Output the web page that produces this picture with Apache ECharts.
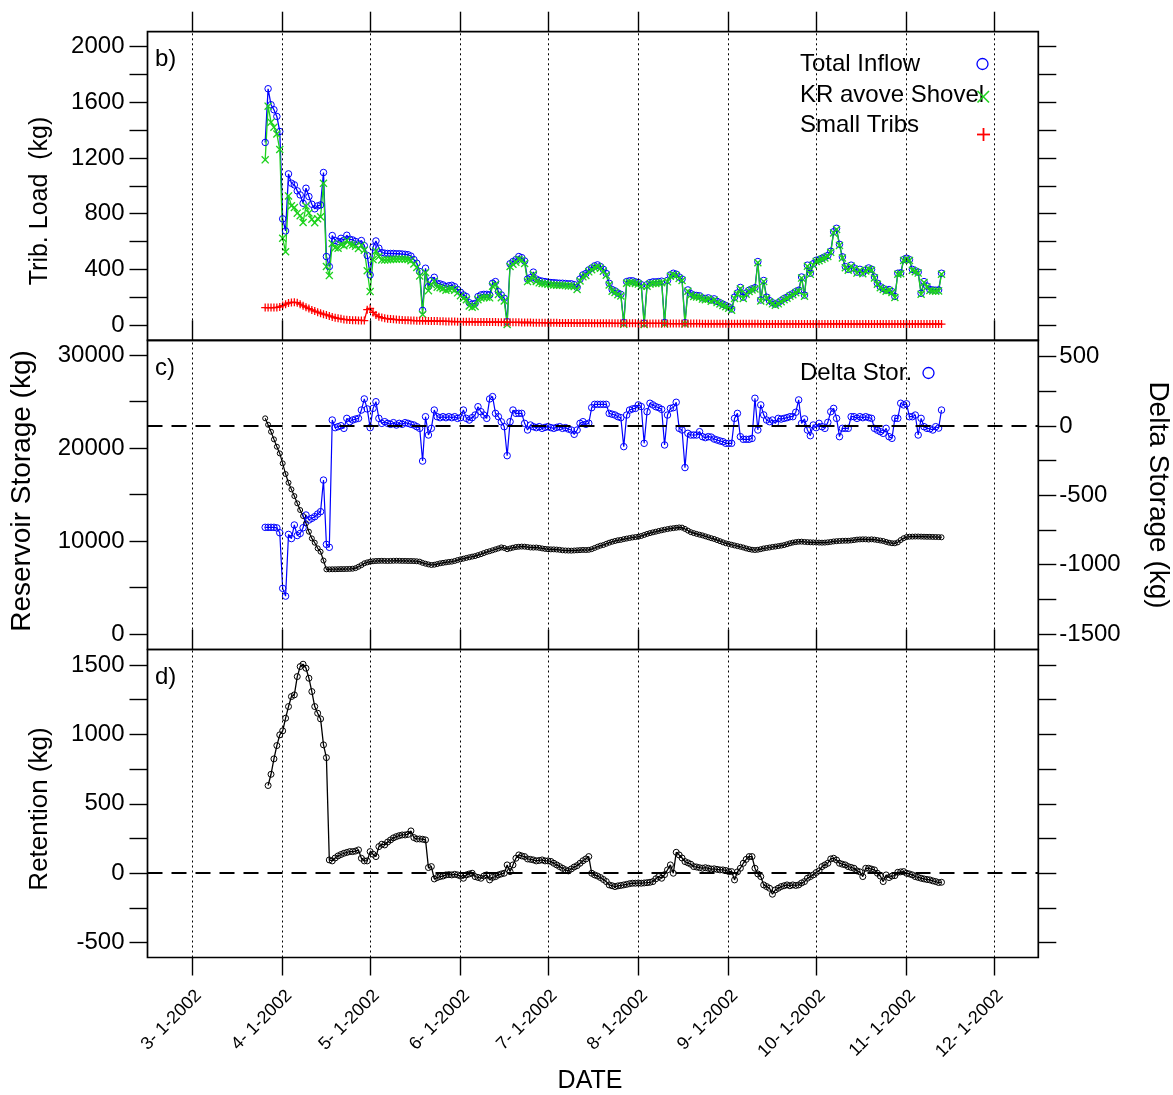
<!DOCTYPE html>
<html>
<head>
<meta charset="utf-8">
<script src="https://cdn.jsdelivr.net/npm/echarts@6/dist/echarts.min.js"></script>
<style>
  html, body { margin: 0; padding: 0; background: #ffffff; }
  #chart { width: 1173px; height: 1095px; }
</style>
</head>
<body>
<div id="chart"></div>
<script>
// Daily series, first value on the date given below, one value per day.
const FIRST_DAY = '2002-03-26';
const RETENTION_FIRST_DAY = '2002-03-27';

// b) tributary loads (kg)
const totalInflow = [
  1312, 1698, 1583, 1547, 1499, 1391, 763, 676, 1086, 1019,
  1007, 964, 935, 875, 983, 923, 868, 835, 856, 863,
  1096, 492, 420, 643, 607, 600, 623, 610, 645, 616,
  611, 600, 583, 607, 570, 500, 360, 560, 604, 552,
  520, 516, 514, 514, 514, 512, 512, 510, 508, 505,
  495, 470, 444, 384, 105, 408, 276, 320, 343, 300,
  295, 288, 276, 282, 285, 275, 255, 235, 216, 204,
  160, 150, 155, 204, 216, 220, 220, 216, 300, 312,
  240, 216, 192, 24, 440, 456, 470, 492, 484, 460,
  330, 340, 380, 330, 320, 315, 312, 308, 305, 304,
  302, 300, 300, 298, 296, 296, 290, 270, 330, 360,
  370, 396, 410, 425, 432, 420, 400, 370, 300, 255,
  245, 230, 220, 18, 312, 318, 318, 310, 305, 290,
  14, 290, 305, 310, 310, 312, 315, 18, 320, 360,
  372, 365, 345, 330, 17, 252, 225, 215, 212, 210,
  195, 190, 195, 180, 188, 170, 160, 150, 140, 130,
  115, 200, 230, 270, 200, 230, 250, 260, 268, 456,
  180, 320, 200, 175, 160, 150, 160, 175, 190, 200,
  215, 225, 240, 250, 345, 215, 430, 372, 440, 465,
  470, 480, 490, 500, 530, 670, 695, 580, 490, 420,
  400, 430, 410, 380, 400, 375, 395, 410, 400, 345,
  300, 275, 262, 250, 255, 240, 205, 372, 375, 470,
  480, 470, 400, 390, 380, 228, 312, 280, 255, 252,
  250, 252, 372
];
const krAboveShovel = [
  1187, 1573, 1458, 1422, 1373, 1261, 623, 526, 928, 857,
  844, 804, 785, 737, 855, 805, 760, 735, 764, 778,
  1018, 420, 355, 585, 555, 552, 579, 570, 607, 580,
  576, 566, 550, 574, 538, 390, 240, 470, 532, 492,
  467, 468, 469, 471, 473, 473, 475, 474, 473, 471,
  462, 438, 413, 353, 75, 378, 247, 291, 315, 272,
  268, 261, 250, 256, 260, 250, 231, 211, 192, 181,
  137, 127, 133, 182, 194, 198, 199, 195, 279, 291,
  220, 196, 172, 4, 421, 437, 451, 473, 466, 442,
  312, 322, 363, 313, 303, 298, 296, 292, 289, 288,
  286, 285, 285, 283, 281, 281, 276, 256, 316, 346,
  356, 382, 397, 412, 419, 407, 387, 357, 287, 243,
  233, 218, 208, 6, 300, 306, 306, 298, 294, 279,
  3, 279, 294, 299, 299, 301, 304, 7, 310, 350,
  362, 355, 335, 320, 7, 242, 215, 205, 202, 200,
  186, 181, 186, 171, 179, 161, 151, 141, 131, 121,
  106, 191, 221, 261, 191, 221, 241, 251, 259, 447,
  172, 312, 192, 167, 152, 142, 152, 167, 182, 192,
  207, 217, 232, 242, 337, 207, 422, 364, 432, 457,
  462, 472, 482, 492, 522, 662, 687, 572, 482, 412,
  393, 423, 403, 373, 393, 368, 388, 403, 393, 338,
  293, 268, 255, 243, 248, 233, 198, 365, 368, 463,
  473, 463, 393, 383, 373, 221, 305, 273, 248, 245,
  243, 245, 365
];
const smallTribs = [
  125, 125, 125, 125, 126, 130, 140, 150, 158, 162,
  163, 160, 150, 138, 128, 118, 108, 100, 92, 85,
  78, 72, 65, 58, 52, 48, 44, 40, 38, 36,
  35, 34, 33, 33, 32, 110, 120, 90, 72, 60,
  53, 48, 45, 43, 41, 39, 37, 36, 35, 34,
  33, 32, 31, 31, 30, 30, 29, 29, 28, 28,
  27, 27, 26, 26, 25, 25, 24, 24, 24, 23,
  23, 23, 22, 22, 22, 22, 21, 21, 21, 21,
  20, 20, 20, 20, 19, 19, 19, 19, 18, 18,
  18, 18, 17, 17, 17, 17, 16, 16, 16, 16,
  16, 15, 15, 15, 15, 15, 14, 14, 14, 14,
  14, 14, 13, 13, 13, 13, 13, 13, 13, 12,
  12, 12, 12, 12, 12, 12, 12, 12, 11, 11,
  11, 11, 11, 11, 11, 11, 11, 11, 10, 10,
  10, 10, 10, 10, 10, 10, 10, 10, 10, 10,
  9, 9, 9, 9, 9, 9, 9, 9, 9, 9,
  9, 9, 9, 9, 9, 9, 9, 9, 9, 9,
  8, 8, 8, 8, 8, 8, 8, 8, 8, 8,
  8, 8, 8, 8, 8, 8, 8, 8, 8, 8,
  8, 8, 8, 8, 8, 8, 8, 8, 8, 8,
  7, 7, 7, 7, 7, 7, 7, 7, 7, 7,
  7, 7, 7, 7, 7, 7, 7, 7, 7, 7,
  7, 7, 7, 7, 7, 7, 7, 7, 7, 7,
  7, 7, 7
];

// c) reservoir storage (kg, left axis) and its daily change (kg, right axis)
const reservoirStorage = [
  23190, 22500, 21750, 20930, 20140, 19420, 18350, 17200, 16270, 15550,
  14830, 14050, 13330, 12690, 11900, 11000, 10280, 9820, 9210, 8850,
  7900, 6950, 6950, 6960, 6960, 6970, 6980, 6980, 6990, 7000,
  7020, 7080, 7230, 7400, 7600, 7700, 7775, 7820, 7850, 7860,
  7870, 7860, 7850, 7860, 7870, 7880, 7870, 7860, 7860, 7850,
  7850, 7840, 7820, 7780, 7650, 7560, 7480, 7420, 7450, 7520,
  7600, 7650, 7700, 7750, 7780, 7850, 7950, 8030, 8100, 8180,
  8250, 8320, 8380, 8480, 8580, 8700, 8820, 8900, 9000, 9100,
  9200, 9310, 9250, 9120, 9200, 9280, 9350, 9380, 9400, 9390,
  9350, 9300, 9290, 9300, 9260, 9200, 9150, 9120, 9100, 9100,
  9080, 9050, 9000, 8980, 8970, 8960, 8980, 9000, 9020, 9040,
  9030, 9050, 9120, 9250, 9380, 9500, 9570, 9700, 9820, 9920,
  10000, 10080, 10120, 10200, 10260, 10320, 10380, 10420, 10460, 10540,
  10650, 10760, 10850, 10930, 11000, 11080, 11150, 11220, 11280, 11340,
  11380, 11420, 11460, 11440, 11300, 11120, 10950, 10850, 10760, 10680,
  10600, 10500, 10400, 10300, 10220, 10100, 9980, 9860, 9750, 9680,
  9600, 9520, 9450, 9380, 9300, 9200, 9120, 9060, 9030, 9060,
  9120, 9200, 9250, 9300, 9360, 9400, 9450, 9500, 9560, 9650,
  9750, 9830, 9880, 9920, 9930, 9900, 9880, 9860, 9850, 9840,
  9830, 9820, 9830, 9860, 9900, 9950, 9980, 10000, 10020, 10030,
  10030, 10060, 10100, 10150, 10170, 10180, 10180, 10150, 10180, 10150,
  10100, 10050, 10000, 9900, 9820, 9760, 9750, 9850, 10100, 10300,
  10420, 10460, 10470, 10480, 10480, 10470, 10460, 10450, 10450, 10440,
  10430, 10420, 10400
];
const deltaStorage = [
  -731, -731, -731, -731, -735, -770, -1171, -1227, -782, -812,
  -714, -790, -775, -734, -642, -678, -666, -654, -635, -618,
  -390, -854, -875, 43, -12, -5, 2, -17, 55, 31,
  43, 50, 55, 115, 195, 123, -12, 127, 175, 55,
  19, 31, 19, 12, 24, 7, 19, 12, 24, 19,
  12, 7, -5, -17, -253, 67, -65, -17, 115, 67,
  60, 67, 60, 67, 60, 67, 55, 60, 115, 55,
  43, 60, 79, 139, 103, 79, 55, 195, 212, 91,
  67, 30, -5, -214, 31, 115, 91, 91, 91, 19,
  -29, 7, -5, -12, -5, -17, -10, -5, -12, -17,
  -10, -5, -17, -12, -22, -29, -60, -29, 19, 31,
  12, 20, 132, 156, 156, 156, 156, 156, 91, 85,
  79, 67, 60, -149, 79, 115, 123, 127, 152, 140,
  -125, 103, 164, 152, 139, 132, 120, -137, 79, 127,
  132, 171, -17, -29, -300, -53, -65, -65, -65, -41,
  -77, -84, -77, -80, -94, -101, -108, -113, -125, -125,
  -125, 55, 91, -77, -96, -96, -96, -90, 200, -29,
  152, 80, 43, 31, 43, 19, 55, 50, 55, 60,
  67, 67, 99, 188, 19, 51, -29, -70, 7, -12,
  19, -5, -17, 26, 103, 127, 55, -77, -17, -17,
  -17, 67, 67, 55, 67, 60, 67, 60, 55, -17,
  -30, -41, -53, -17, -77, -89, 55, 55, 164, 152,
  160, 67, 67, 79, -65, 55, -5, -17, -20, -29,
  -5, -15, 115
];

// d) retention (kg)
const retention = [
  632, 713, 824, 920, 997, 1026, 1117, 1201, 1273, 1285,
  1417, 1489, 1506, 1477, 1405, 1309, 1201, 1153, 1112, 925,
  833, 96, 89, 110, 125, 135, 144, 150, 156, 156,
  160, 168, 108, 89, 89, 156, 137, 120, 192, 209,
  204, 225, 240, 255, 264, 271, 276, 276, 280, 305,
  257, 247, 247, 245, 240, 41, 48, -41, -31, -24,
  -20, -12, -10, -12, -8, -12, -20, -36, -12, -5,
  0, -24, -30, -36, -20, -12, -48, -30, -24, -12,
  -5, 0, 60, 12, 60, 108, 132, 125, 120, 103,
  100, 96, 89, 92, 96, 89, 89, 85, 72, 60,
  48, 36, 25, 17, 31, 45, 55, 72, 90, 103,
  120, 0, -12, -20, -31, -45, -60, -84, -90, -96,
  -91, -88, -84, -80, -75, -72, -72, -70, -72, -70,
  -68, -65, -60, -40, -24, -36, -10, 24, 60, 0,
  151, 132, 110, 84, 75, 65, 48, 45, 40, 36,
  40, 36, 30, 32, 28, 24, 24, 20, 12, 12,
  -48, 10, 36, 72, 100, 120, 120, 36, -5, -24,
  -84, -96, -108, -151, -120, -108, -96, -90, -84, -90,
  -84, -88, -84, -70, -60, -36, -24, -12, 5, 17,
  48, 60, 72, 103, 108, 95, 72, 65, 60, 48,
  42, 36, 17, 10, -24, 36, 36, 30, 24, 0,
  -20, -60, -12, -31, -20, -17, 7, 10, 12, 0,
  -5, -12, -24, -30, -36, -41, -45, -48, -55, -60,
  -67, -65
];

// Axis marks
const monthStarts = ['2002-03-01', '2002-04-01', '2002-05-01', '2002-06-01', '2002-07-01',
                     '2002-08-01', '2002-09-01', '2002-10-01', '2002-11-01', '2002-12-01'];
const loadTicks = [0, 200, 400, 600, 800, 1000, 1200, 1400, 1600, 1800, 2000];
const loadLabels = [0, 400, 800, 1200, 1600, 2000];
const storageTicks = [0, 5000, 10000, 15000, 20000, 25000, 30000];
const storageLabels = [0, 10000, 20000, 30000];
const deltaTicks = [-1500, -1250, -1000, -750, -500, -250, 0, 250, 500];
const deltaLabels = [-1500, -1000, -500, 0, 500];
const retentionTicks = [-500, -250, 0, 250, 500, 750, 1000, 1250, 1500];
const retentionLabels = [-500, 0, 500, 1000, 1500];

const DAY = 86400000;
const utc = s => Date.parse(s + 'T00:00:00Z');
const withDates = (first, values) => values.map((v, i) => [utc(first) + i * DAY, v]);
const monthTs = monthStarts.map(utc);
const X_MIN = utc('2002-03-01') - 15.37 * DAY;
const X_MAX = utc('2002-12-01') + 15.2 * DAY;

const FONT = '"Liberation Sans", Arial, Helvetica, sans-serif';
const BLUE = '#0000ff', GREEN = '#1ed21e', RED = '#ff0000', BLACK = '#000000';
const X_MARK = 'path://M0,1.2L1.2,0L5,3.8L8.8,0L10,1.2L6.2,5L10,8.8L8.8,10L5,6.2L1.2,10L0,8.8L3.8,5Z';
const PLUS_MARK = 'path://M4.2,0H5.8V4.2H10V5.8H5.8V10H4.2V5.8H0V4.2H4.2Z';

const L = 147.5, W = 890.8;
const grids = [
  { left: L, width: W, top: 31.7, height: 308.6 },
  { left: L, width: W, top: 340.3, height: 309.2 },
  { left: L, width: W, top: 649.5, height: 308 }
].map(g => Object.assign(g, { show: true, borderColor: BLACK, borderWidth: 1.7, backgroundColor: 'transparent', outerBoundsMode: 'none' }));

const tickStyle = { color: BLACK, width: 1.4 };
const hiddenLine = { show: false, onZero: false };

// x axes are plain value axes holding UTC timestamps
function xAxisFor(gridIndex, opts) {
  return Object.assign({
    type: 'value', gridIndex, min: X_MIN, max: X_MAX, position: 'bottom', scale: true,
    axisLine: hiddenLine,
    axisTick: { show: true, inside: true, length: 20, customValues: monthTs, lineStyle: tickStyle },
    axisLabel: { show: false, customValues: monthTs },
    splitLine: { show: false },
    minorTick: { show: false }
  }, opts);
}

function yAxisFor(gridIndex, position, min, max, ticks, labels, showLabels) {
  return {
    type: 'value', gridIndex, position, min, max,
    axisLine: hiddenLine,
    axisTick: { show: true, inside: false, length: 18, customValues: ticks, lineStyle: tickStyle },
    axisLabel: {
      show: showLabels, customValues: labels, margin: position === 'left' ? 23 : 21,
      color: BLACK, fontSize: 24, fontFamily: FONT, formatter: v => String(v)
    },
    splitLine: { show: false }
  };
}

const dateLabel = v => {
  const d = new Date(v);
  return (d.getUTCMonth() + 1) + '- ' + d.getUTCDate() + '-' + d.getUTCFullYear();
};

const openCircle = (color, size) => ({
  symbol: 'circle', symbolSize: size,
  itemStyle: { color: 'rgba(255,255,255,0)', borderColor: color, borderWidth: 1 }
});

const zeroLine = {
  silent: true, symbol: ['none', 'none'], label: { show: false },
  lineStyle: { color: BLACK, width: 2, type: [15, 9] },
  data: [{ yAxis: 0 }]
};

// dotted month lines, drawn at the month starts of each panel
const monthLines = {
  silent: true, symbol: ['none', 'none'], label: { show: false },
  lineStyle: { color: BLACK, width: 1, type: [2, 3] },
  data: monthTs.map(t => ({ xAxis: t }))
};

const common = { type: 'line', showAllSymbol: true, animation: false, emphasis: { disabled: true }, z: 3 };

const option = {
  animation: false,
  backgroundColor: '#ffffff',
  grid: grids,
  xAxis: [
    xAxisFor(0),
    xAxisFor(0, { position: 'top', axisTick: { show: true, inside: false, length: 20, customValues: monthTs, lineStyle: tickStyle } }),
    xAxisFor(1),
    xAxisFor(2, {
      axisTick: { show: true, inside: false, length: 18, customValues: monthTs, lineStyle: tickStyle },
      axisLabel: {
        show: true, customValues: monthTs, rotate: 45, margin: 29, formatter: dateLabel,
        verticalAlign: 'top', color: BLACK, fontSize: 18, fontFamily: FONT, hideOverlap: false
      }
    })
  ],
  yAxis: [
    yAxisFor(0, 'left', -110, 2108, loadTicks, loadLabels, true),
    yAxisFor(0, 'right', -110, 2108, loadTicks, loadLabels, false),
    yAxisFor(1, 'left', -1667, 31581, storageTicks, storageLabels, true),
    yAxisFor(1, 'right', -1612, 618, deltaTicks, deltaLabels, true),
    yAxisFor(2, 'left', -607, 1612, retentionTicks, retentionLabels, true),
    yAxisFor(2, 'right', -607, 1612, retentionTicks, retentionLabels, false)
  ],
  series: [
    Object.assign({}, common, openCircle(BLUE, 6.5), {
      name: 'Total Inflow', xAxisIndex: 0, yAxisIndex: 0,
      data: withDates(FIRST_DAY, totalInflow),
      lineStyle: { color: BLUE, width: 1.3 },
      markLine: monthLines
    }),
    Object.assign({}, common, {
      name: 'KR avove Shovel', xAxisIndex: 0, yAxisIndex: 0,
      data: withDates(FIRST_DAY, krAboveShovel),
      symbol: X_MARK, symbolSize: 8,
      itemStyle: { color: GREEN },
      lineStyle: { color: GREEN, width: 1.3 }
    }),
    Object.assign({}, common, {
      name: 'Small Tribs', xAxisIndex: 0, yAxisIndex: 0,
      data: withDates(FIRST_DAY, smallTribs),
      symbol: PLUS_MARK, symbolSize: 8,
      itemStyle: { color: RED },
      lineStyle: { color: RED, width: 1.3 }
    }),
    Object.assign({}, common, openCircle(BLACK, 5), {
      name: 'Reservoir Storage', xAxisIndex: 2, yAxisIndex: 2,
      data: withDates(FIRST_DAY, reservoirStorage),
      lineStyle: { color: BLACK, width: 1.2 },
      markLine: monthLines
    }),
    Object.assign({}, common, openCircle(BLUE, 6.5), {
      name: 'Delta Stor.', xAxisIndex: 2, yAxisIndex: 3,
      data: withDates(FIRST_DAY, deltaStorage),
      lineStyle: { color: BLUE, width: 1.2 },
      markLine: zeroLine
    }),
    Object.assign({}, common, openCircle(BLACK, 6), {
      name: 'Retention', xAxisIndex: 3, yAxisIndex: 4,
      data: withDates(RETENTION_FIRST_DAY, retention),
      lineStyle: { color: BLACK, width: 1.3 },
      markLine: zeroLine
    }),
    // month reference lines of panel d
    Object.assign({}, common, {
      name: 'panel d months', xAxisIndex: 3, yAxisIndex: 4, data: [], symbol: 'none',
      markLine: monthLines
    })
  ],
  graphic: [
    // panel letters
    { type: 'text', x: 155, y: 59, style: { text: 'b)', fontSize: 24, fontFamily: FONT, fill: BLACK, verticalAlign: 'middle' } },
    { type: 'text', x: 155, y: 368, style: { text: 'c)', fontSize: 24, fontFamily: FONT, fill: BLACK, verticalAlign: 'middle' } },
    { type: 'text', x: 155, y: 677, style: { text: 'd)', fontSize: 24, fontFamily: FONT, fill: BLACK, verticalAlign: 'middle' } },
    // axis titles
    { type: 'text', x: 40, y: 201, rotation: Math.PI / 2, style: { text: 'Trib. Load  (kg)', fontSize: 25, fontFamily: FONT, fill: BLACK, align: 'center', verticalAlign: 'middle' } },
    { type: 'text', x: 22, y: 491, rotation: Math.PI / 2, style: { text: 'Reservoir Storage (kg)', fontSize: 28, fontFamily: FONT, fill: BLACK, align: 'center', verticalAlign: 'middle' } },
    { type: 'text', x: 40, y: 809, rotation: Math.PI / 2, style: { text: 'Retention (kg)', fontSize: 26, fontFamily: FONT, fill: BLACK, align: 'center', verticalAlign: 'middle' } },
    { type: 'text', x: 1158, y: 495, rotation: -Math.PI / 2, style: { text: 'Delta Storage (kg)', fontSize: 28, fontFamily: FONT, fill: BLACK, align: 'center', verticalAlign: 'middle' } },
    { type: 'text', x: 590, y: 1081, style: { text: 'DATE', fontSize: 25, fontFamily: FONT, fill: BLACK, align: 'center', verticalAlign: 'middle' } },
    // legend, panel b
    { type: 'text', x: 800, y: 64, style: { text: 'Total Inflow', fontSize: 24, fontFamily: FONT, fill: BLACK, verticalAlign: 'middle' } },
    { type: 'circle', shape: { cx: 982.5, cy: 64, r: 5.5 }, style: { fill: 'none', stroke: BLUE, lineWidth: 1.3 } },
    { type: 'text', x: 800, y: 95, style: { text: 'KR avove Shovel', fontSize: 24, fontFamily: FONT, fill: BLACK, verticalAlign: 'middle' } },
    { type: 'line', shape: { x1: 977.5, y1: 91, x2: 989, y2: 102.5 }, style: { stroke: GREEN, lineWidth: 1.6 } },
    { type: 'line', shape: { x1: 989, y1: 91, x2: 977.5, y2: 102.5 }, style: { stroke: GREEN, lineWidth: 1.6 } },
    { type: 'text', x: 800, y: 125, style: { text: 'Small Tribs', fontSize: 24, fontFamily: FONT, fill: BLACK, verticalAlign: 'middle' } },
    { type: 'line', shape: { x1: 977, y1: 134.5, x2: 990, y2: 134.5 }, style: { stroke: RED, lineWidth: 1.8 } },
    { type: 'line', shape: { x1: 983.5, y1: 128, x2: 983.5, y2: 141 }, style: { stroke: RED, lineWidth: 1.8 } },
    // legend, panel c
    { type: 'text', x: 800, y: 373, style: { text: 'Delta Stor.', fontSize: 24, fontFamily: FONT, fill: BLACK, verticalAlign: 'middle' } },
    { type: 'circle', shape: { cx: 928.5, cy: 373, r: 5.5 }, style: { fill: 'none', stroke: BLUE, lineWidth: 1.3 } }
  ]
};

const chart = echarts.init(document.getElementById('chart'), null, { renderer: 'canvas' });
chart.setOption(option);
</script>
</body>
</html>
